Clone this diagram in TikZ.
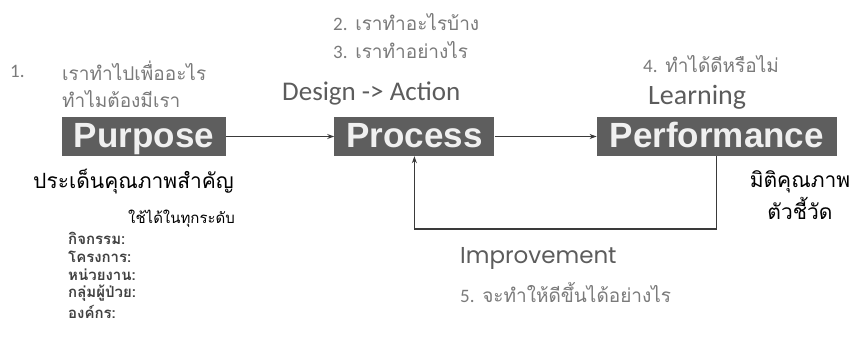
\documentclass[tikz,border=0pt]{standalone}
\usepackage{fontspec}
\usepackage{xcolor}
\usepackage{tikz}
\usetikzlibrary{positioning,arrows.meta}
\newfontfamily\thaifont[Script=Thai]{Loma}
\newfontfamily\boxfont{Liberation Sans}
\newfontfamily\calfont{Carlito}
\newfontfamily\roundfont{Poppins}
\definecolor{pqbox}{HTML}{5E5E5E}
\definecolor{pqnote}{HTML}{7A7A7A}
\definecolor{pqphase}{HTML}{5C5C5C}
\definecolor{pqline}{HTML}{3A3A3A}
\newcommand{\thq}[1]{{\thaifont\color{pqnote}#1}}
\newcommand{\numq}[1]{{\calfont\color{pqnote}#1}}

\begin{document}
\begin{tikzpicture}[
  x=1pt, y=-1pt,
  stage/.style={fill=pqbox, text=white!94!black, minimum height=39pt, text height=28pt, text depth=7pt, inner sep=0pt, font=\boxfont\bfseries\fontsize{35pt}{38pt}\selectfont},
  note/.style={anchor=west, inner sep=0pt, font=\fontsize{19pt}{22pt}\selectfont},
  phase/.style={anchor=west, inner sep=0pt, text=pqphase, font=\calfont\fontsize{27pt}{30pt}\selectfont},
  dark/.style={inner sep=0pt, text=black, font=\thaifont\fontsize{21pt}{32pt}\selectfont},
  unit/.style={anchor=west, inner sep=0pt, text=black!75, font=\thaifont\bfseries\fontsize{15pt}{18pt}\selectfont},
  arr/.style={-{Stealth[length=7pt,width=5pt]}, line width=1.1pt, draw=pqline}
]
\useasboundingbox (0,0) rectangle (860,338);
\node[stage, minimum width=164pt] (purp) at (144,136.5) {Purpose};
\node[stage, minimum width=160pt, right=108pt of purp] (proc) {Process};
\node[stage, minimum width=240pt, right=102pt of proc] (perf) {Performance};
\draw[arr] (purp) -- (proc); \draw[arr] (proc) -- (perf);
\coordinate (loop) at (proc.south |- 0,229);
\draw[arr] (perf.south) |- (loop) -- (proc.south);

% questions above the stages
\node[note] (num1) at (10,71) {\numq{1.}};
\node[note] (q1) at (62,71) {\thq{เราทำไปเพื่ออะไร}};
\node[note] (q1b) at (62,99) {\thq{ทำไมต้องมีเรา}};
\node[note] (q2) at (333,22) {\numq{2.} \thq{เราทำอะไรบ้าง}};
\node[note] (q3) at (333,50) {\numq{3.} \thq{เราทำอย่างไร}};
\node[note] (q4) at (643,64) {\numq{4.} \thq{ทำได้ดีหรือไม่}};
\node[phase] (design) at (282,93) {Design -> Action};
\node[phase, font=\calfont\fontsize{28pt}{30pt}\selectfont] (learn) at (648,97) {Learning};

% below the stages
\node[dark, anchor=west] (issue) at (33,182) {ประเด็นคุณภาพสำคัญ};
\node[dark, align=center] (dim) at (800,195) {มิติคุณภาพ\\ตัวชี้วัด};
\node[note, font=\thaifont\fontsize{15pt}{18pt}\selectfont] (levels) at (128,219) {ใช้ได้ในทุกระดับ};
\foreach \unitname [count=\i] in {กิจกรรม:, โครงการ:, หน่วยงาน:, กลุ่มผู้ป่วย:, องค์กร:}
  \node[unit] (unit\i) at (68,219.5+18.5*\i) {\unitname};
\node[phase, font=\roundfont\fontsize{23pt}{26pt}\selectfont] (impr) at (460,258) {Improvement};
\node[note] (q5) at (460,293) {\numq{5.} \thq{จะทำให้ดีขึ้นได้อย่างไร}};
\end{tikzpicture}
\end{document}
